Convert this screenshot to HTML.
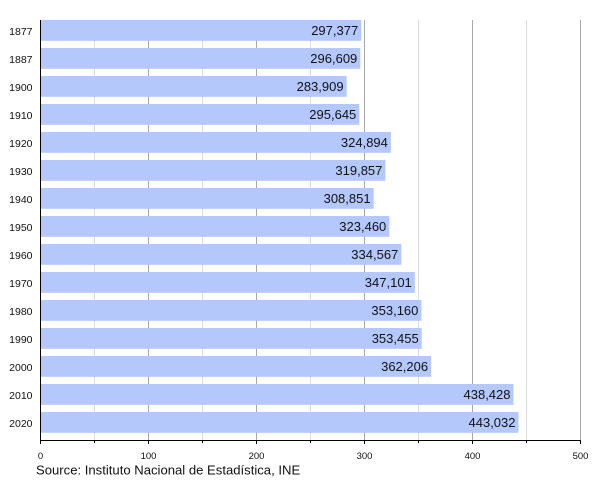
<!DOCTYPE html>
<html>
<head>
<meta charset="utf-8">
<style>
html,body{margin:0;padding:0;background:#fff;}
svg{display:block;}
text{font-family:"Liberation Sans",Arial,sans-serif;}
</style>
</head>
<body>
<svg width="600" height="480" viewBox="0 0 600 480" xmlns="http://www.w3.org/2000/svg">
<rect width="600" height="480" fill="#fff"/>
<!-- minor grid -->
<g stroke="#dcdcdc" stroke-width="1">
<line x1="94.5" y1="20" x2="94.5" y2="440"/>
<line x1="202.5" y1="20" x2="202.5" y2="440"/>
<line x1="310.5" y1="20" x2="310.5" y2="440"/>
<line x1="418.5" y1="20" x2="418.5" y2="440"/>
<line x1="526.5" y1="20" x2="526.5" y2="440"/>
</g>
<!-- major grid -->
<g stroke="#a8a8a8" stroke-width="1">
<line x1="148.5" y1="20" x2="148.5" y2="440"/>
<line x1="256.5" y1="20" x2="256.5" y2="440"/>
<line x1="364.5" y1="20" x2="364.5" y2="440"/>
<line x1="472.5" y1="20" x2="472.5" y2="440"/>
<line x1="580.5" y1="20" x2="580.5" y2="440"/>
</g>
<!-- bars -->
<g fill="#b4c8fc">
<rect x="41" y="20" width="320.2" height="20.8"/>
<rect x="41" y="48" width="319.3" height="20.8"/>
<rect x="41" y="76" width="305.6" height="20.8"/>
<rect x="41" y="104" width="318.3" height="20.8"/>
<rect x="41" y="132" width="349.9" height="20.8"/>
<rect x="41" y="160" width="344.4" height="20.8"/>
<rect x="41" y="188" width="332.6" height="20.8"/>
<rect x="41" y="216" width="348.3" height="20.8"/>
<rect x="41" y="244" width="360.3" height="20.8"/>
<rect x="41" y="272" width="373.8" height="20.8"/>
<rect x="41" y="300" width="380.4" height="20.8"/>
<rect x="41" y="328" width="380.7" height="20.8"/>
<rect x="41" y="356" width="390.1" height="20.8"/>
<rect x="41" y="384" width="472.5" height="20.8"/>
<rect x="41" y="412" width="477.5" height="20.8"/>
</g>
<!-- value labels -->
<g font-size="13" fill="#111" text-anchor="end">
<text x="358.2" y="35.2">297,377</text>
<text x="357.3" y="63.2">296,609</text>
<text x="343.6" y="91.2">283,909</text>
<text x="356.3" y="119.2">295,645</text>
<text x="387.9" y="147.2">324,894</text>
<text x="382.4" y="175.2">319,857</text>
<text x="370.6" y="203.2">308,851</text>
<text x="386.3" y="231.2">323,460</text>
<text x="398.3" y="259.2">334,567</text>
<text x="411.8" y="287.2">347,101</text>
<text x="418.4" y="315.2">353,160</text>
<text x="418.7" y="343.2">353,455</text>
<text x="428.1" y="371.2">362,206</text>
<text x="510.5" y="399.2">438,428</text>
<text x="515.5" y="427.2">443,032</text>
</g>
<!-- year labels -->
<g font-size="10.5" fill="#111" text-anchor="end">
<text x="32.5" y="35">1877</text>
<text x="32.5" y="63">1887</text>
<text x="32.5" y="91">1900</text>
<text x="32.5" y="119">1910</text>
<text x="32.5" y="147">1920</text>
<text x="32.5" y="175">1930</text>
<text x="32.5" y="203">1940</text>
<text x="32.5" y="231">1950</text>
<text x="32.5" y="259">1960</text>
<text x="32.5" y="287">1970</text>
<text x="32.5" y="315">1980</text>
<text x="32.5" y="343">1990</text>
<text x="32.5" y="371">2000</text>
<text x="32.5" y="399">2010</text>
<text x="32.5" y="427">2020</text>
</g>
<!-- axes -->
<g stroke="#000" stroke-width="1">
<line x1="40.5" y1="20" x2="40.5" y2="444"/>
<line x1="40" y1="440.5" x2="581" y2="440.5"/>
<line x1="94.5" y1="440" x2="94.5" y2="443"/>
<line x1="148.5" y1="440" x2="148.5" y2="444"/>
<line x1="202.5" y1="440" x2="202.5" y2="443"/>
<line x1="256.5" y1="440" x2="256.5" y2="444"/>
<line x1="310.5" y1="440" x2="310.5" y2="443"/>
<line x1="364.5" y1="440" x2="364.5" y2="444"/>
<line x1="418.5" y1="440" x2="418.5" y2="443"/>
<line x1="472.5" y1="440" x2="472.5" y2="444"/>
<line x1="526.5" y1="440" x2="526.5" y2="443"/>
<line x1="580.5" y1="440" x2="580.5" y2="444"/>
</g>
<!-- x tick labels -->
<g font-size="9.5" fill="#111" text-anchor="middle">
<text x="40.5" y="459">0</text>
<text x="148.5" y="459">100</text>
<text x="256.5" y="459">200</text>
<text x="364.5" y="459">300</text>
<text x="472.5" y="459">400</text>
<text x="580.5" y="459">500</text>
</g>
<text x="36" y="474.5" font-size="13.1" fill="#111">Source: Instituto Nacional de Estadística, INE</text>
</svg>
</body>
</html>
